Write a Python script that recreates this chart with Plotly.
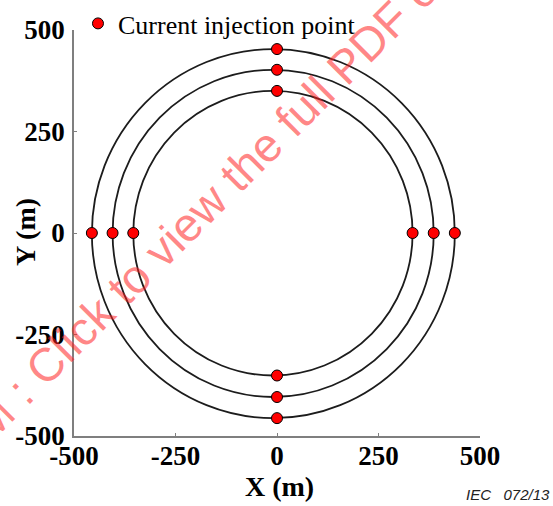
import plotly.graph_objects as go

# ---- data ----
ring_labels = ["inner", "middle", "outer"]
ring_top_y = [350, 402, 453]
ring_bottom_y = [-351, -404, -456]
ring_left_x = [-354, -405, -456]
ring_right_x = [334, 386, 438]

x_tick_vals = [-500, -250, 0, 250, 500]
x_tick_text = ["-500", "-250", "0", "250", "500"]
y_tick_vals = [-500, -250, 0, 250, 500]
y_tick_text = ["-500", "-250", "0", "250", "500"]

legend_label = "Current injection point"
x_title = "X (m)"
y_title = "Y (m)"
figure_id = "IEC   072/13"
watermark = "IECNORM.COM : Click to view the full PDF of IEC"

# injection points: top/bottom on x = 0, left/right on y = 0
pts_x = [0] * len(ring_top_y) + [0] * len(ring_bottom_y) + ring_left_x + ring_right_x
pts_y = ring_top_y + ring_bottom_y + [0] * len(ring_left_x) + [0] * len(ring_right_x)

SERIF = "Liberation Serif, Times New Roman, serif"

fig = go.Figure()

shapes = []
for i in range(len(ring_labels)):
    shapes.append(dict(
        type="circle", xref="x", yref="y",
        x0=ring_left_x[i], x1=ring_right_x[i],
        y0=ring_bottom_y[i], y1=ring_top_y[i],
        line=dict(color="#1c1c1c", width=1.8),
        layer="below",
    ))

fig.add_trace(go.Scatter(
    x=pts_x, y=pts_y, mode="markers", name=legend_label,
    marker=dict(color="#ff0000", size=11, line=dict(color="#000000", width=1)),
    showlegend=True,
))

axis_common = dict(
    showgrid=False, zeroline=False, showline=True,
    linecolor="#7f7f7f", linewidth=1.5,
    ticks="inside", ticklen=3, tickcolor="#7f7f7f", tickwidth=1.2,
    tickfont=dict(family=SERIF, size=27, color="#000000", weight="bold"),
    range=[-500, 500], fixedrange=True, automargin=False,
)

fig.update_layout(
    width=553, height=506,
    margin=dict(l=74, r=73, t=30, b=70, autoexpand=False),
    paper_bgcolor="white", plot_bgcolor="white",
    shapes=shapes,
    xaxis=dict(**axis_common, tickvals=x_tick_vals, ticktext=x_tick_text,
               ticklabelstandoff=-5),
    yaxis=dict(**axis_common, tickvals=y_tick_vals, ticktext=y_tick_text,
               ticklabelstandoff=2),
    showlegend=True,
    legend=dict(
        xref="container", yref="container",
        x=0.141, y=1.0, xanchor="left", yanchor="top",
        bgcolor="rgba(0,0,0,0)",
        font=dict(family=SERIF, size=26, color="#000000"),
        itemwidth=30,
    ),
    annotations=[
        dict(text=x_title, xref="paper", yref="paper", x=0.505, y=-0.124,
             showarrow=False, xanchor="center", yanchor="middle",
             font=dict(family=SERIF, size=28, color="#000000", weight="bold")),
        dict(text=y_title, xref="paper", yref="paper", x=-0.121, y=0.502,
             showarrow=False, xanchor="center", yanchor="middle", textangle=-90,
             font=dict(family=SERIF, size=28, color="#000000", weight="bold")),
        dict(text=figure_id, xref="paper", yref="paper", x=1.178, y=-0.145,
             showarrow=False, xanchor="right", yanchor="middle",
             font=dict(family="Liberation Sans, Arial, sans-serif", size=15,
                       color="#222222", style="italic")),
        dict(text=watermark, xref="paper", yref="paper", x=0.143, y=0.389,
             showarrow=False, xanchor="center", yanchor="middle", textangle=-45,
             font=dict(family="Liberation Sans, Arial, sans-serif", size=47,
                       color="rgba(255,30,30,0.55)")),
    ],
)

fig.write_html(
    "out.html",
    config={"displayModeBar": False},
    post_script="document.body.style.margin='0px';document.body.style.overflow='hidden';",
)
